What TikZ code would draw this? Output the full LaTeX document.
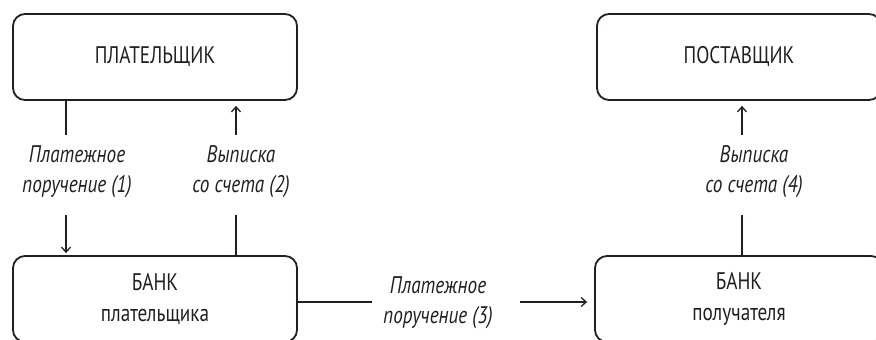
\documentclass[tikz,border=0pt]{standalone}
\usepackage{fontspec}
\setmainfont{PT Sans}[FakeStretch=0.8]
\usetikzlibrary{arrows.meta}
\definecolor{ink}{HTML}{231F20}

\begin{document}
\begin{tikzpicture}[x=1pt,y=-1pt,
  box/.style={draw=ink, line width=1.8pt, rounded corners=12pt,
    minimum width=284pt, minimum height=86pt, inner sep=0pt,
    text=ink, align=center, font=\fontsize{24}{31}\selectfont},
  lbl/.style={text=ink, align=center, inner sep=0pt,
    font=\fontsize{24}{30}\selectfont\itshape},
  link/.style={draw=ink, line width=1.5pt},
  arr/.style={link, -{Straight Barb[length=5pt,width=9pt,line width=1.3pt]}}]
\clip (0,0) rectangle (876,340);

\node[box] (payer) at (155,57) {ПЛАТЕЛЬЩИК};
\node[box] (supplier) at (739,57) {ПОСТАВЩИК};
\node[box] (bankA) at (155,299) {БАНК\\плательщика};
\node[box, minimum width=288pt] (bankB) at (739,299) {БАНК\\получателя};

\node[lbl] (order1) at (77,172) {Платежное\\поручение (1)};
\node[lbl] (stmt2) at (241,172) {Выписка\\со счета (2)};
\node[lbl] (order3) at (438,303) {Платежное\\поручение (3)};
\node[lbl] (stmt4) at (754,172) {Выписка\\со счета (4)};

% payer -> bank
\coordinate (p1) at (66,135);
\coordinate (p2) at (66,215);
\draw[link] (p1 |- payer.south) -- (p1);
\draw[arr, shorten >=2pt] (p2) -- (p2 |- bankA.north);

% bank -> payer
\coordinate (s1) at (236,135);
\coordinate (s2) at (236,215);
\draw[link] (s2 |- bankA.north) -- (s2);
\draw[arr, shorten >=5pt] (s1) -- (s1 |- payer.south);

% bank -> bank
\coordinate (h1) at (372,302);
\coordinate (h2) at (520,302);
\draw[link] (bankA.east |- h1) -- (h1);
\draw[arr, shorten >=7pt] (h2) -- (h2 -| bankB.west);

% bank -> supplier
\coordinate (r1) at (742,135);
\coordinate (r2) at (742,215);
\draw[link] (r2 |- bankB.north) -- (r2);
\draw[arr, shorten >=5pt] (r1) -- (r1 |- supplier.south);
\end{tikzpicture}
\end{document}
